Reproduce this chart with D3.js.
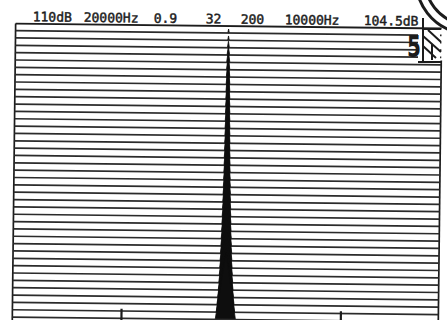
<!DOCTYPE html>
<html>
<head>
<meta charset="utf-8">
<script src="https://cdn.jsdelivr.net/npm/d3@7"></script>
<style>
  body { margin: 0; background: #fff; }
  svg { display: block; }
</style>
</head>
<body>
<script>
// Consts
const width = 447;
const height = 320;

const headerLabels = ["110dB", "20000Hz", "0.9", "32", "200", "10000Hz", "104.5dB"];
const headerX = [31, 82, 152, 204, 239, 283, 362];   // layout: start of each label

const freqDomain = [0, 20000];          // Hz across the frame
const peakHz = 10000;                    // centre of the spectral line
const markerHz = [5100, 15400];          // small tick marks along the bottom

// one spectrum per row, back (top) to front (bottom)
const traces = [1, 2, 3, 4, 5, 6, 7, 8, 9, 10,
                11, 12, 13, 14, 15, 16, 17, 18, 19, 20,
                21, 22, 23, 24, 25, 26, 27, 28, 29, 30,
                31, 32, 33, 34, 35, 36, 37, 38, 39, 40];

// width of the peak at its foot, Hz
const peakWidthHz = [70, 75, 95, 120, 150, 155, 165, 175, 185, 195,
                     205, 215, 225, 235, 245, 255, 265, 280, 290, 305,
                     320, 340, 355, 375, 395, 415, 435, 455, 480, 505,
                     535, 560, 590, 625, 660, 700, 750, 810, 870, 950];

// height of the peak above the noise floor, dB
const peakDb = [5, 5.5, 8, 11, 15, 18, 22, 26, 30, 31,
                32, 33, 35, 36, 37, 38, 40, 42, 43, 44,
                46, 47, 49, 50, 52, 54, 55, 57, 59, 61,
                63, 65, 66, 68, 70, 72, 74, 77, 80, 84];

// Scales
const x = d3.scaleLinear().domain(freqDomain).range([14, 440]);
const y = d3.scalePoint().domain(traces).range([33, 319.5]);
const amp = d3.scaleLinear().domain([0, 50]).range([0, 40]);

const ink = "#1c1c1c";

// SVG
const svg = d3.select("body")
  .append("svg")
  .attr("width", width)
  .attr("height", height);

svg.append("rect").attr("width", width).attr("height", height).attr("fill", "#fff");

// the scan is a little skewed
const g = svg.append("g")
  .attr("transform", "rotate(0.65,227,170)");

// Header
g.selectAll("text.hdr")
  .data(headerLabels)
  .enter()
  .append("text")
  .attr("class", "hdr")
  .attr("x", (d, i) => headerX[i])
  .attr("y", 23.5)
  .attr("font-family", "DejaVu Sans Mono")
  .attr("font-size", 13)
  .attr("fill", ink)
  .attr("stroke", ink)
  .attr("stroke-width", 0.45)
  .text(d => d);

// Frame
g.append("line")
  .attr("x1", x(freqDomain[0])).attr("x2", x(freqDomain[1]))
  .attr("y1", 26).attr("y2", 26)
  .attr("stroke", ink).attr("stroke-width", 1.9);

g.append("line")
  .attr("x1", x(freqDomain[0])).attr("x2", x(freqDomain[0]))
  .attr("y1", 26).attr("y2", 330)
  .attr("stroke", ink).attr("stroke-width", 1.7);

g.append("line")
  .attr("x1", x(freqDomain[1])).attr("x2", x(freqDomain[1]))
  .attr("y1", 58).attr("y2", 330)
  .attr("stroke", ink).attr("stroke-width", 1.7);

// Traces: noise floor with the peak
const rows = traces.map((t, i) => ({
  t: t,
  w: peakWidthHz[i],
  h: peakDb[i]
}));

const rowG = g.selectAll("g.trace")
  .data(rows)
  .enter()
  .append("g")
  .attr("class", "trace");

rowG.append("path")
  .attr("d", d => {
    const yy = y(d.t);
    const xl = x(peakHz - d.w / 2), xr = x(peakHz + d.w / 2);
    return `M${xl},${yy}L${x(peakHz)},${yy - amp(d.h)}L${xr},${yy}Z`;
  })
  .attr("fill", "#0e0e0e")
  .attr("stroke", "#0e0e0e")
  .attr("stroke-width", 0.8);

rowG.append("line")
  .attr("x1", x(freqDomain[0]))
  .attr("x2", x(freqDomain[1]))
  .attr("y1", d => y(d.t))
  .attr("y2", d => y(d.t))
  .attr("stroke", "#2b2b2b")
  .attr("stroke-width", 1.7);

// bottom marker ticks
const markAxis = d3.axisBottom(x)
  .tickValues(markerHz)
  .tickSize(-12)
  .tickFormat("");

const ax = g.append("g")
  .attr("transform", "translate(0,322)")
  .call(markAxis);
ax.select(".domain").remove();
ax.selectAll(".tick line").attr("stroke", ink).attr("stroke-width", 2.2);

// Corner annotations (hand marks on the print)
const corner = svg.append("g");

corner.append("rect")
  .attr("x", 418).attr("y", 30).attr("width", 22).attr("height", 32)
  .attr("fill", "#fff");

corner.append("text")
  .attr("x", 407).attr("y", 57)
  .attr("font-family", "DejaVu Sans Condensed")
  .attr("font-weight", "bold")
  .attr("font-size", 31)
  .attr("transform", "translate(407,0) scale(0.72,1) translate(-407,0)")
  .attr("fill", ink)
  .text("5");

const box = d3.path();
box.moveTo(423, 18); box.lineTo(423, 62);
box.moveTo(418, 62); box.lineTo(441, 62);
box.moveTo(423, 29); box.lineTo(441, 29);
box.moveTo(423, 36); box.lineTo(441, 52);
box.moveTo(428, 30); box.lineTo(441, 42);
box.moveTo(423, 46); box.lineTo(436, 58);
box.moveTo(432, 44); box.lineTo(432, 60);
corner.append("path")
  .attr("d", box.toString())
  .attr("fill", "none")
  .attr("stroke", ink)
  .attr("stroke-width", 2);

[54, 45].forEach(r => {
  const p = d3.path();
  p.arc(470, -20, r, Math.PI * 0.6, Math.PI * 0.98, false);
  corner.append("path")
    .attr("d", p.toString())
    .attr("fill", "none")
    .attr("stroke", ink)
    .attr("stroke-width", 3);
});
</script>
</body>
</html>
